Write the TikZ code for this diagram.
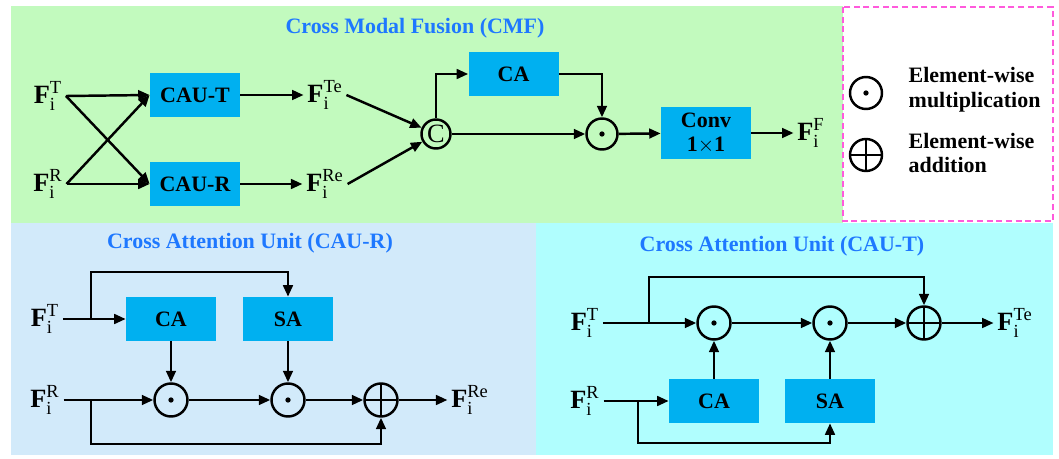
\documentclass[tikz,border=0pt]{standalone}
\usepackage{amsmath}
\usepackage{fontspec}
\setmainfont{Liberation Serif}
\usetikzlibrary{arrows.meta,positioning}
\definecolor{cmfgreen}{RGB}{194,250,190}
\definecolor{caurblue}{RGB}{210,234,250}
\definecolor{cautcyan}{RGB}{176,254,254}
\definecolor{boxblue}{RGB}{0,176,240}
\definecolor{titleblue}{RGB}{30,120,255}
\definecolor{legendpink}{RGB}{255,90,220}
\newcommand{\feat}[1]{\textbf{F}$_{\textnormal{i}}^{\textnormal{#1}}$}

\begin{document}
\begin{tikzpicture}[
    >={Triangle[length=6.5pt,width=5.5pt]},
    flow/.style={->, line width=1.4pt},
    block/.style={rectangle, fill=boxblue, minimum width=1.8cm, minimum height=0.88cm,
                  font=\fontsize{12.5}{14}\selectfont\bfseries, align=center},
    feat/.style={font=\fontsize{15}{17}\selectfont, inner sep=2pt},
    panel title/.style={font=\fontsize{12.5}{14}\selectfont\bfseries, text=titleblue},
    op/.style={circle, draw, line width=1.4pt, minimum size=0.66cm, inner sep=0pt},
    mul/.style={op, path picture={\fill (path picture bounding box.center) circle (1.5pt);}},
    add/.style={op, path picture={\draw[line width=1.4pt]
                (path picture bounding box.north) -- (path picture bounding box.south)
                (path picture bounding box.west) -- (path picture bounding box.east);}},
    legendtext/.style={font=\fontsize{12.5}{14}\selectfont\bfseries, align=left, anchor=west}
]
    \useasboundingbox (0,0) rectangle (21.18,-9.18);
    \fill[cmfgreen] (0.22,-0.12) rectangle (16.86,-4.46);
    \fill[caurblue] (0.22,-4.46) rectangle (10.72,-9.1);
    \fill[cautcyan] (10.72,-4.46) rectangle (21.06,-9.1);
    \draw[legendpink, dashed, dash pattern=on 3.5pt off 2pt, line width=1pt, fill=white]
        (16.86,-0.14) rectangle (21.06,-4.42);

    % cross modal fusion
    \node[panel title] (cmftitle) at (8.3,-0.56) {Cross Modal Fusion (CMF)};
    \node[feat] (ft) at (0.96,-1.92) {\feat{T}};
    \node[feat] (fr) at (0.96,-3.68) {\feat{R}};
    \node[block] (caut) at (3.9,-1.9) {CAU-T};
    \node[block] (caur) at (3.9,-3.68) {CAU-R};
    \node[feat] (fte) at (6.5,-1.9) {\feat{Te}};
    \node[feat] (fre) at (6.5,-3.68) {\feat{Re}};
    \node[op, minimum size=0.58cm, font=\fontsize{15}{17}\selectfont] (cat) at (8.72,-2.68) {C};
    \node[block] (ca) at (10.27,-1.48) {CA};
    \node[mul, minimum size=0.62cm] (fmul) at (12.04,-2.68) {};
    \node[block, minimum height=1cm] (conv) at (14.12,-2.66) {Conv\\1$\times$1};
    \node[feat] (ff) at (16.22,-2.66) {\feat{F}};
    \draw[flow] (ft.east) -- (caut.west);
    \draw[flow] (ft.east) -- (caur.west);
    \draw[flow] (fr.east) -- (caur.west);
    \draw[flow] (fr.east) -- (caut.west);
    \draw[flow] (caut) -- (fte);
    \draw[flow] (caur) -- (fre);
    \draw[flow] (fte.east) -- (cat);
    \draw[flow] (fre.east) -- (cat);
    \draw[flow] (cat.north) |- (ca.west);
    \draw[flow] (ca.east) -| (fmul.north);
    \draw[flow] (cat) -- (fmul);
    \draw[flow] (fmul) -- (conv);
    \draw[flow] (conv) -- (ff);

    % legend
    \node[mul, minimum size=0.64cm] (legmul) at (17.32,-1.86) {};
    \node[legendtext] (legmultext) at (18.05,-1.8) {Element-wise\\multiplication};
    \node[add, minimum size=0.64cm] (legadd) at (17.32,-3.1) {};
    \node[legendtext] (legaddtext) at (18.05,-3.06) {Element-wise\\addition};

    % CAU-R
    \node[panel title] (rtitle) at (5.0,-4.86) {Cross Attention Unit (CAU-R)};
    \node[feat] (rft) at (0.9,-6.38) {\feat{T}};
    \node[feat] (rfr) at (0.9,-8.0) {\feat{R}};
    \node[block] (rca) at (3.42,-6.38) {CA};
    \node[block] (rsa) at (5.76,-6.38) {SA};
    \node[mul] (rmul1) at (3.42,-8.0) {};
    \node[mul] (rmul2) at (5.76,-8.0) {};
    \node[add] (radd) at (7.62,-8.0) {};
    \node[feat] (rfre) at (9.4,-8.0) {\feat{Re}};
    \coordinate (rsplitt) at (1.82,-6.38);
    \coordinate (rsplitr) at (1.82,-8.0);
    \draw[flow] (rft) -- (rca);
    \draw[flow] (rsplitt) -- ++(0,0.94) -| (rsa.north);
    \draw[flow] (rca) -- (rmul1);
    \draw[flow] (rsa) -- (rmul2);
    \draw[flow] (rfr) -- (rmul1);
    \draw[flow] (rmul1) -- (rmul2);
    \draw[flow] (rmul2) -- (radd);
    \draw[flow] (radd) -- (rfre);
    \draw[flow] (rsplitr) -- ++(0,-0.88) -| (radd.south);

    % CAU-T
    \node[panel title] (ttitle) at (15.64,-4.92) {Cross Attention Unit (CAU-T)};
    \node[feat] (tft) at (11.7,-6.46) {\feat{T}};
    \node[feat] (tfr) at (11.7,-8.02) {\feat{R}};
    \node[mul] (tmul1) at (14.28,-6.46) {};
    \node[mul] (tmul2) at (16.6,-6.46) {};
    \node[add] (tadd) at (18.48,-6.46) {};
    \node[feat] (tfte) at (20.3,-6.46) {\feat{Te}};
    \node[block] (tca) at (14.28,-8.02) {CA};
    \node[block] (tsa) at (16.6,-8.02) {SA};
    \coordinate (tsplitt) at (12.98,-6.46);
    \coordinate (tsplitr) at (12.76,-8.02);
    \draw[flow] (tft) -- (tmul1);
    \draw[flow] (tmul1) -- (tmul2);
    \draw[flow] (tmul2) -- (tadd);
    \draw[flow] (tadd) -- (tfte);
    \draw[flow] (tsplitt) -- ++(0,0.92) -| (tadd.north);
    \draw[flow] (tfr) -- (tca);
    \draw[flow] (tca) -- (tmul1);
    \draw[flow] (tsa) -- (tmul2);
    \draw[flow] (tsplitr) -- ++(0,-0.84) -| (tsa.south);
\end{tikzpicture}
\end{document}
